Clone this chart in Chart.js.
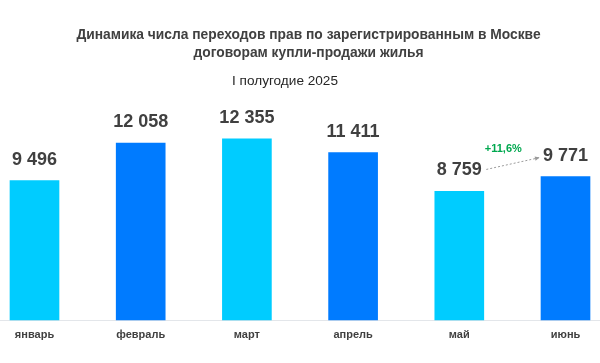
<!DOCTYPE html>
<html>
<head>
<meta charset="utf-8">
<script src="https://cdn.jsdelivr.net/npm/chart.js@4"></script>
<style>
  html, body { margin: 0; padding: 0; background: #fff; }
  #wrap { width: 600px; height: 363px; }
</style>
</head>
<body>
<div id="wrap"><canvas id="dealsChart" width="600" height="363"></canvas></div>
<script>
// Данные
const months = ['январь', 'февраль', 'март', 'апрель', 'май', 'июнь'];
const deals = [9496, 12058, 12355, 11411, 8759, 9771];
const barColors = ['#00ccff', '#007bff', '#00ccff', '#007bff', '#00ccff', '#007bff'];
const titleLines = ['Динамика числа переходов прав по зарегистрированным в Москве', 'договорам купли-продажи жилья'];
const subtitleText = 'I полугодие 2025';
const growthText = '+11,6%';

const textColor = '#404040';

function fmt(v) {
    return String(v).replace(/\B(?=(\d{3})+(?!\d))/g, ' ');
}

// Заголовок, подписи значений и стрелка
const decorPlugin = {
    id: 'decor',
    beforeDatasetsDraw(chart) {
        const ctx = chart.ctx;
        const y0 = chart.scales.y.getPixelForValue(0);
        ctx.save();
        ctx.strokeStyle = '#e3e6ea';
        ctx.lineWidth = 1;
        ctx.beginPath();
        ctx.moveTo(0, Math.round(y0) + 0.5);
        ctx.lineTo(chart.width, Math.round(y0) + 0.5);
        ctx.stroke();
        ctx.restore();
    },
    afterDatasetsDraw(chart) {
        const ctx = chart.ctx;
        const meta = chart.getDatasetMeta(0);
        ctx.save();

        // title
        ctx.fillStyle = textColor;
        ctx.textAlign = 'center';
        ctx.textBaseline = 'middle';
        ctx.font = 'bold 13.8px "Liberation Sans", Arial, sans-serif';
        ctx.fillText(titleLines[0], 308.5, 35);
        ctx.fillText(titleLines[1], 308.5, 53);
        ctx.font = '13.6px "Liberation Sans", Arial, sans-serif';
        ctx.fillStyle = '#262626';
        ctx.fillText(subtitleText, 285, 81);

        // value labels
        ctx.fillStyle = textColor;
        ctx.font = 'bold 18px "Liberation Sans", Arial, sans-serif';
        meta.data.forEach((bar, i) => {
            ctx.fillText(fmt(deals[i]), bar.x, bar.y - 21);
        });

        // arrow май -> июнь
        const a = meta.data[4], b = meta.data[5];
        const x1 = a.x + 27, y1 = a.y - 22;
        const x2 = b.x - 26, y2 = b.y - 19;
        ctx.strokeStyle = '#9a9a9a';
        ctx.lineWidth = 1;
        ctx.setLineDash([2, 2]);
        ctx.beginPath();
        ctx.moveTo(x1, y1);
        ctx.lineTo(x2, y2);
        ctx.stroke();
        ctx.setLineDash([]);
        const ang = Math.atan2(y2 - y1, x2 - x1);
        ctx.fillStyle = '#9a9a9a';
        ctx.beginPath();
        ctx.moveTo(x2, y2);
        ctx.lineTo(x2 - 5 * Math.cos(ang - 0.45), y2 - 5 * Math.sin(ang - 0.45));
        ctx.lineTo(x2 - 5 * Math.cos(ang + 0.45), y2 - 5 * Math.sin(ang + 0.45));
        ctx.closePath();
        ctx.fill();

        ctx.fillStyle = '#00a84f';
        ctx.font = 'bold 11px "Liberation Sans", Arial, sans-serif';
        ctx.fillText(growthText, x1 + 17, y2 - 9);

        ctx.restore();
    }
};

const chart = new Chart(document.getElementById('dealsChart'), {
    type: 'bar',
    data: {
        labels: months,
        datasets: [{
            data: deals,
            backgroundColor: barColors,
            borderWidth: 0,
            barThickness: 49,
            clip: false
        }]
    },
    options: {
        responsive: false,
        animation: false,
        layout: {
            padding: { left: 34.5, right: 34.5, top: 100, bottom: 12 }
        },
        plugins: {
            legend: { display: false },
            tooltip: { enabled: false },
            title: { display: false }
        },
        scales: {
            x: {
                offset: false,
                grid: { display: false, drawTicks: false },
                border: { display: false },
                ticks: {
                    padding: 9,
                    color: textColor,
                    font: { family: '"Liberation Sans", Arial, sans-serif', size: 11, weight: 'bold' }
                }
            },
            y: {
                display: false,
                min: 0,
                max: 15000
            }
        }
    },
    plugins: [decorPlugin]
});
</script>
</body>
</html>
